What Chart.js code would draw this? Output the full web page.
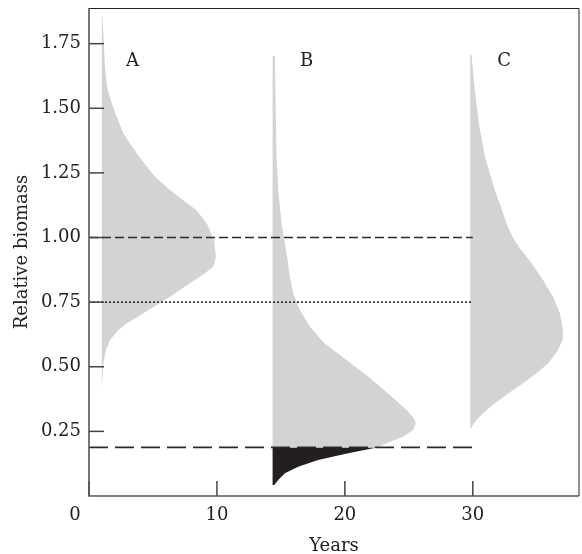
<!DOCTYPE html>
<html lang="en">
<head>
    <meta charset="UTF-8">
    <title>Relative biomass</title>
    <script src="https://cdn.jsdelivr.net/npm/chart.js"></script>
    <style>
        body {
            margin: 0;
            padding: 0;
            background-color: #fff;
        }
        #chart-container {
            width: 582px;
            height: 554px;
        }
    </style>
</head>
<body>
    <div id="chart-container">
        <canvas id="biomassChart" width="582" height="554"></canvas>
    </div>
    <script>
        // Distribution A (base year 1)
        const aBase = 1.0;
        const aLevels = [1.880, 1.790, 1.661, 1.577, 1.532, 1.467, 1.403, 1.364, 1.300, 1.235, 1.184, 1.145, 1.106, 1.055, 0.990, 0.926, 0.887, 0.862, 0.823, 0.771, 0.739, 0.694, 0.668, 0.642, 0.603, 0.565, 0.513, 0.429];
        const aYears  = [1.00, 1.12, 1.25, 1.43, 1.70, 2.16, 2.68, 3.20, 4.12, 5.16, 6.33, 7.34, 8.41, 9.20, 9.77, 9.92, 9.71, 9.06, 7.89, 6.33, 5.29, 3.85, 2.95, 2.29, 1.64, 1.33, 1.12, 1.02];

        // Distribution B (base year 14.35), grey above the threshold
        const bBase = 14.35;
        const bLevels = [1.702, 1.506, 1.313, 1.184, 1.055, 0.913, 0.848, 0.784, 0.720, 0.655, 0.591, 0.526, 0.462, 0.397, 0.333, 0.301, 0.281, 0.255, 0.229, 0.204, 0.188];
        const bYears  = [14.53, 14.59, 14.66, 14.79, 15.05, 15.52, 15.70, 15.96, 16.48, 17.27, 18.40, 20.13, 21.82, 23.38, 24.82, 25.39, 25.55, 25.34, 24.55, 23.26, 22.50];
        // part of B below the threshold (black)
        const bLowLevels = [0.188, 0.165, 0.139, 0.113, 0.088, 0.062, 0.043];
        const bLowYears  = [22.50, 20.26, 17.91, 16.35, 15.31, 14.79, 14.48];

        // Distribution C (base year 29.8)
        const cBase = 29.8;
        const cLevels = [1.706, 1.571, 1.442, 1.313, 1.248, 1.184, 1.119, 1.055, 0.997, 0.964, 0.900, 0.836, 0.771, 0.707, 0.642, 0.603, 0.565, 0.513, 0.475, 0.436, 0.397, 0.359, 0.320, 0.294, 0.262];
        const cYears  = [29.90, 30.16, 30.47, 30.94, 31.33, 31.72, 32.19, 32.63, 33.15, 33.60, 34.59, 35.49, 36.27, 36.80, 37.05, 37.01, 36.66, 35.88, 34.98, 33.93, 32.76, 31.72, 30.80, 30.29, 29.84];

        // horizontal reference lines
        const refStart = 0;
        const refEnd = 30;
        const refDashed = 1.00;
        const refDotted = 0.75;
        const refThreshold = 0.188;

        const panelNames = ['A', 'B', 'C'];
        const panelYears = [3.4, 17.0, 32.45];
        const panelLevel = 1.68;

        const xTicks = [0, 10, 20, 30];
        const yTicks = [0.25, 0.50, 0.75, 1.00, 1.25, 1.50, 1.75];

        const FONT = "'DejaVu Serif', serif";
        const GREY = '#d3d3d5';
        const BLACK = '#231f20';

        // closed outline: curve from top to bottom, then back up along the base year
        function outline(base, levels, years) {
            const pts = levels.map((y, i) => ({ x: years[i], y: y }));
            pts.push({ x: base, y: levels[levels.length - 1] });
            pts.push({ x: base, y: levels[0] });
            return pts;
        }

        function shape(data, color) {
            return {
                data: data,
                showLine: true,
                borderWidth: 0,
                borderColor: color,
                backgroundColor: color,
                fill: 'shape',
                pointRadius: 0,
                order: 2
            };
        }

        function refLine(y, dash, width) {
            return {
                data: [{ x: refStart, y: y }, { x: refEnd, y: y }],
                showLine: true,
                borderColor: '#2b2b2b',
                borderWidth: width,
                borderDash: dash,
                fill: false,
                pointRadius: 0,
                order: 1
            };
        }

        // frame, inner tick marks, panel letters and the corner "0"
        const decorations = {
            id: 'decorations',
            afterDraw(chart) {
                const ctx = chart.ctx;
                const area = chart.chartArea;
                const xs = chart.scales.x;
                const ys = chart.scales.y;
                ctx.save();

                ctx.strokeStyle = '#444';
                ctx.lineWidth = 1.5;
                yTicks.forEach(v => {
                    const p = ys.getPixelForValue(v);
                    ctx.beginPath();
                    ctx.moveTo(area.left, p);
                    ctx.lineTo(area.left + 15, p);
                    ctx.stroke();
                });
                xTicks.forEach(v => {
                    const p = xs.getPixelForValue(v);
                    ctx.beginPath();
                    ctx.moveTo(p, area.bottom);
                    ctx.lineTo(p, area.bottom - 15);
                    ctx.stroke();
                });

                ctx.strokeStyle = '#222';
                ctx.lineWidth = 1;
                ctx.beginPath();
                ctx.moveTo(area.left, area.top + 0.5);
                ctx.lineTo(area.right, area.top + 0.5);
                ctx.lineTo(area.right, area.bottom);
                ctx.stroke();

                ctx.strokeStyle = '#555';
                ctx.lineWidth = 1.6;
                ctx.beginPath();
                ctx.moveTo(area.left, area.top);
                ctx.lineTo(area.left, area.bottom);
                ctx.lineTo(area.right, area.bottom);
                ctx.stroke();

                ctx.fillStyle = '#222';
                ctx.font = '18px ' + FONT;
                ctx.textAlign = 'center';
                ctx.textBaseline = 'middle';
                panelNames.forEach((name, i) => {
                    ctx.fillText(name, xs.getPixelForValue(panelYears[i]), ys.getPixelForValue(panelLevel));
                });
                ctx.fillText('0', xs.getPixelForValue(0) - 14, area.bottom + 19);
                ctx.restore();
            }
        };

        const ctx = document.getElementById('biomassChart').getContext('2d');
        new Chart(ctx, {
            type: 'line',
            data: {
                datasets: [
                    shape(outline(aBase, aLevels, aYears), GREY),
                    shape(outline(bBase, bLevels, bYears), GREY),
                    shape(outline(bBase, bLowLevels, bLowYears), BLACK),
                    shape(outline(cBase, cLevels, cYears), GREY),
                    refLine(refDashed, [9, 4], 1.6),
                    refLine(refDotted, [2, 2], 1.6),
                    refLine(refThreshold, [19, 7], 1.6)
                ]
            },
            options: {
                responsive: false,
                animation: false,
                devicePixelRatio: 1,
                layout: { padding: { top: 8, right: 3, left: 0, bottom: 0 } },
                plugins: {
                    legend: { display: false },
                    tooltip: { enabled: false }
                },
                scales: {
                    x: {
                        type: 'linear',
                        min: 0,
                        max: 38.3,
                        afterFit: s => { s.height = 58; s.paddingLeft = 0; s.paddingRight = 0; },
                        afterBuildTicks: s => { s.ticks = xTicks.map(v => ({ value: v })); },
                        grid: { display: false, drawTicks: false },
                        border: { display: false },
                        ticks: {
                            padding: 9,
                            color: '#222',
                            font: { family: FONT, size: 18 },
                            callback: v => (v === 0 ? '' : String(v))
                        },
                        title: {
                            display: true,
                            text: 'Years',
                            color: '#222',
                            font: { family: FONT, size: 18 },
                            padding: { top: 0, bottom: -3 }
                        }
                    },
                    y: {
                        min: 0,
                        max: 1.888,
                        afterFit: s => { s.width = 89; s.paddingTop = 0; s.paddingBottom = 0; },
                        afterBuildTicks: s => { s.ticks = yTicks.map(v => ({ value: v })); },
                        grid: { display: false, drawTicks: false },
                        border: { display: false },
                        ticks: {
                            padding: 8,
                            color: '#222',
                            font: { family: FONT, size: 18 },
                            callback: v => v.toFixed(2)
                        },
                        title: {
                            display: true,
                            text: 'Relative biomass',
                            color: '#222',
                            font: { family: FONT, size: 18 },
                            padding: { top: 12, bottom: 0 }
                        }
                    }
                }
            },
            plugins: [decorations]
        });
    </script>
</body>
</html>
